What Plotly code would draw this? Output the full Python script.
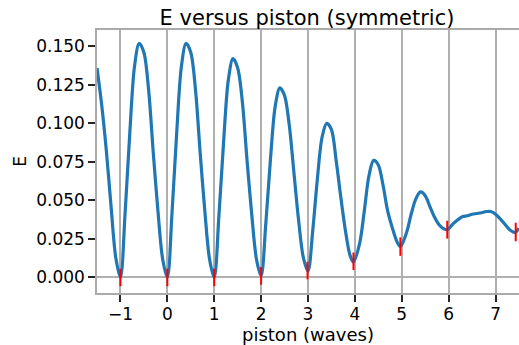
import plotly.graph_objects as go

# Curve: E versus piston
piston = [-1.5, -1.4, -1.3, -1.2, -1.1, -1.0,
          -0.9, -0.8, -0.7, -0.6, -0.5, -0.4, -0.3, -0.2, -0.1, 0.0,
          0.1, 0.2, 0.3, 0.4, 0.5, 0.6, 0.7, 0.8, 0.9, 1.0,
          1.1, 1.2, 1.3, 1.4, 1.5, 1.6, 1.7, 1.8, 1.9, 2.0,
          2.1, 2.2, 2.3, 2.4, 2.5, 2.6, 2.7, 2.8, 2.9, 3.0,
          3.1, 3.2, 3.3, 3.4, 3.5, 3.6, 3.7, 3.8, 3.9, 3.97,
          4.1, 4.2, 4.3, 4.4, 4.5, 4.6, 4.7, 4.8, 4.9, 4.97,
          5.1, 5.2, 5.3, 5.4, 5.5, 5.6, 5.7, 5.8, 5.9, 5.97,
          6.1, 6.2, 6.3, 6.4, 6.5, 6.6, 6.7, 6.8, 6.9, 7.0,
          7.1, 7.2, 7.3, 7.42, 7.5]
E = [0.136, 0.112, 0.082, 0.046, 0.013, 0.000,
     0.042, 0.094, 0.137, 0.152, 0.146, 0.122, 0.081, 0.043, 0.012, 0.000,
     0.042, 0.094, 0.137, 0.152, 0.146, 0.122, 0.081, 0.043, 0.012, 0.000,
     0.040, 0.088, 0.128, 0.142, 0.136, 0.114, 0.076, 0.041, 0.012, 0.001,
     0.035, 0.077, 0.111, 0.123, 0.118, 0.099, 0.068, 0.037, 0.013, 0.004,
     0.030, 0.064, 0.091, 0.100, 0.096, 0.076, 0.052, 0.030, 0.014, 0.010,
     0.022, 0.043, 0.066, 0.076, 0.073, 0.060, 0.043, 0.032, 0.023, 0.020,
     0.029, 0.041, 0.051, 0.0555, 0.053, 0.046, 0.039, 0.034, 0.0315, 0.031,
     0.035, 0.0375, 0.0395, 0.040, 0.041, 0.0415, 0.042, 0.0428, 0.0428, 0.041,
     0.038, 0.0345, 0.031, 0.0292, 0.032]

# Red error bars at the minima
min_piston = [-1.0, 0.0, 1.0, 2.0, 2.99, 3.97, 4.97, 5.97, 7.43]
min_E = [0.0, 0.0, 0.0, 0.001, 0.0045, 0.0105, 0.020, 0.031, 0.0295]
min_err = [0.0057, 0.0057, 0.0057, 0.0057, 0.0057, 0.0057, 0.0060, 0.0058, 0.0060]

x_ticks = [-1, 0, 1, 2, 3, 4, 5, 6, 7]
x_ticktext = ["\u22121", "0", "1", "2", "3", "4", "5", "6", "7"]
y_ticks = [0.0, 0.025, 0.05, 0.075, 0.1, 0.125, 0.15]
y_ticktext = ["0.000", "0.025", "0.050", "0.075", "0.100", "0.125", "0.150"]

FONT = "DejaVu Sans"

fig = go.Figure()
fig.add_trace(go.Scatter(
    x=piston, y=E, mode="lines",
    line=dict(color="#1f77b4", width=3.2, shape="spline", smoothing=0.9),
    hoverinfo="skip", showlegend=False))
fig.add_trace(go.Scatter(
    x=min_piston, y=min_E, mode="markers",
    marker=dict(size=1, opacity=0),
    error_y=dict(type="data", array=min_err, visible=True,
                 color="red", thickness=2, width=0),
    showlegend=False))

fig.update_layout(
    width=519, height=345,
    margin=dict(l=97, r=0, t=30, b=52),
    paper_bgcolor="white", plot_bgcolor="white",
    font=dict(family=FONT, size=17, color="#262626"),
    title=dict(text="E versus piston (symmetric)", x=307 / 519, xanchor="center",
               xref="container", yref="container", y=1 - 18 / 345, yanchor="middle",
               font=dict(family=FONT, size=21, color="#000000")),
    annotations=[
        dict(text="piston (waves)", xref="paper", yref="paper",
             x=0.5, y=(293.3 - 334.5) / 263.3, xanchor="center", yanchor="middle",
             showarrow=False, font=dict(family=FONT, size=18, color="#000000")),
        dict(text="E", xref="paper", yref="paper",
             x=(20 - 97) / 422, y=(293.3 - 162) / 263.3, xanchor="center", yanchor="middle",
             textangle=-90, showarrow=False,
             font=dict(family=FONT, size=17, color="#000000")),
    ],
)
fig.update_xaxes(
    range=[-1.5, 7.5], tickmode="array", tickvals=x_ticks, ticktext=x_ticktext,
    showgrid=True, gridcolor="#b0b0b0", gridwidth=1.8,
    zeroline=False,
    showline=True, linecolor="#aaaaaa", linewidth=1.5, mirror=True,
    ticks="outside", ticklen=7, tickwidth=1.5, tickcolor="#262626",
    ticklabelstandoff=-2,
    tickfont=dict(family=FONT, size=17, color="#000000"),
    automargin=False,
)
fig.update_yaxes(
    range=[-0.0101, 0.1606], tickmode="array", tickvals=y_ticks, ticktext=y_ticktext,
    showgrid=False,
    zeroline=True, zerolinecolor="#b0b0b0", zerolinewidth=1.8,
    showline=True, linecolor="#aaaaaa", linewidth=1.5, mirror=False,
    ticks="outside", ticklen=7, tickwidth=1.5, tickcolor="#262626",
    tickfont=dict(family=FONT, size=17, color="#000000"),
    automargin=False,
)

fig.write_html("out.html")
